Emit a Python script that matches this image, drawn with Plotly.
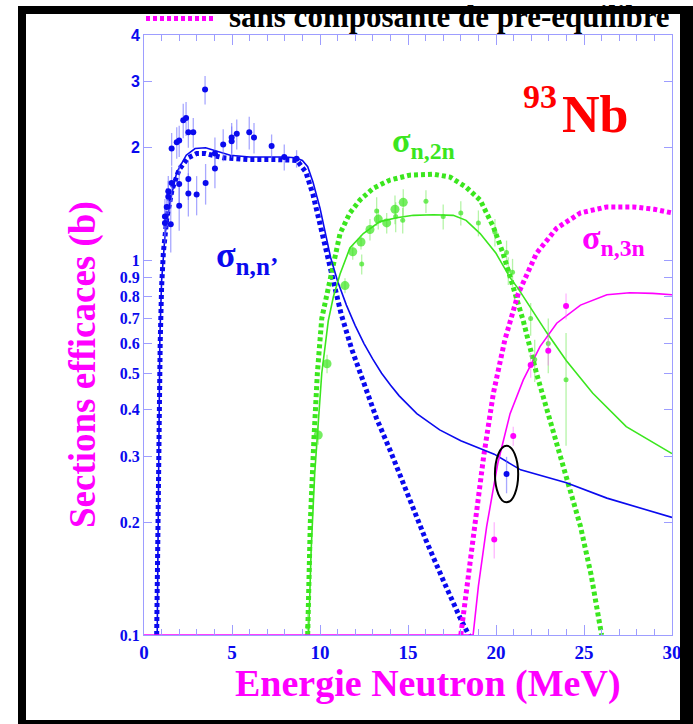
import math
import plotly.graph_objects as go

# ---------------- data ----------------
# sigma(n,n') with pre-equilibrium (solid blue)
E_nn_pe = [0.75, 0.8, 0.85, 0.9, 1.0, 1.1, 1.2, 1.5, 1.86, 2.4, 2.9, 3.5, 4.1, 4.9, 6.0, 7.0, 8.0, 8.6,
           9.0, 9.3, 9.6, 10.0, 10.3, 10.6, 11.0, 11.5, 12.0, 12.5, 13.0, 13.5, 14.0, 14.5, 15.5, 16.8,
           18.0, 19.9, 21.4, 24.0, 26.3, 30.0]
S_nn_pe = [0.1, 0.2, 0.4, 0.62, 0.88, 1.05, 1.18, 1.45, 1.72, 1.91, 1.99, 2.0, 1.96, 1.91, 1.89, 1.89, 1.89, 1.88,
           1.85, 1.78, 1.62, 1.38, 1.18, 1.02, 0.88, 0.76, 0.67, 0.6, 0.545, 0.5, 0.465, 0.435, 0.39, 0.353,
           0.33, 0.304, 0.276, 0.255, 0.232, 0.206]
# sigma(n,n') without pre-equilibrium (dotted blue)
E_nn_np = [0.72, 0.78, 0.85, 0.92, 1.0, 1.1, 1.3, 1.6, 2.0, 2.5, 3.0, 3.5, 4.5, 6.0, 7.5, 8.7, 9.2, 9.6,
           10.0, 10.4, 10.8, 11.2, 11.8, 12.5, 13.2, 14.0, 15.0, 16.0, 17.0, 18.0, 18.7]
S_nn_np = [0.1, 0.2, 0.4, 0.6, 0.85, 1.05, 1.3, 1.55, 1.75, 1.88, 1.93, 1.93, 1.88, 1.86, 1.86, 1.85, 1.72, 1.5,
           1.25, 1.05, 0.88, 0.72, 0.58, 0.47, 0.38, 0.31, 0.235, 0.18, 0.14, 0.11, 0.095]
# sigma(n,2n) with pre-equilibrium (solid green)
E_2n_pe = [9.35, 9.5, 9.7, 9.9, 10.1, 10.47, 10.76, 11.14, 11.7, 12.46, 13.4, 14.36, 15.3, 16.44, 17.57,
           18.3, 19.1, 20.0, 20.8, 21.27, 22.9, 24.0, 25.5, 27.4, 30.0]
S_2n_pe = [0.1, 0.17, 0.27, 0.38, 0.5, 0.69, 0.8, 0.92, 1.08, 1.18, 1.27, 1.30, 1.32, 1.325, 1.32,
           1.28, 1.18, 1.045, 0.9, 0.84, 0.64, 0.54, 0.442, 0.36, 0.305]
# sigma(n,2n) without pre-equilibrium (dotted green)
E_2n_np = [9.3, 9.45, 9.65, 9.85, 10.1, 10.38, 10.76, 11.14, 11.7, 12.27, 13.03, 13.98, 15.1, 16.44, 17.39,
           18.3, 19.1, 19.85, 20.4, 20.98, 21.55, 22.3, 23.07, 23.8, 24.4, 24.8, 25.4, 26.0]
S_2n_np = [0.1, 0.2, 0.33, 0.5, 0.70, 0.81, 1.0, 1.18, 1.34, 1.45, 1.56, 1.64, 1.69, 1.70, 1.67,
           1.57, 1.45, 1.23, 1.045, 0.85, 0.69, 0.50, 0.375, 0.287, 0.229, 0.195, 0.145, 0.1]
# sigma(n,3n) with pre-equilibrium (solid magenta)
E_3n_pe = [0.0, 18.7, 19.0, 19.47, 20.1, 20.8, 21.55, 22.5, 23.45, 24.8, 26.3, 27.6, 28.9, 30.0]
S_3n_pe = [0.1, 0.1, 0.135, 0.195, 0.287, 0.39, 0.48, 0.589, 0.68, 0.76, 0.81, 0.82, 0.817, 0.81]
# sigma(n,3n) without pre-equilibrium (dotted magenta)
E_3n_np = [18.0, 18.4, 18.8, 19.3, 19.85, 20.5, 21.27, 22.3, 23.45, 24.8, 26.3, 27.8, 29.0, 30.0]
S_3n_np = [0.1, 0.14, 0.199, 0.3, 0.442, 0.613, 0.817, 1.045, 1.22, 1.34, 1.39, 1.39, 1.37, 1.34]

# experimental points
E_exp_nn = [1.19, 1.19, 1.29, 1.38, 1.38, 1.52, 1.57, 1.57, 1.86, 2.0, 2.0, 2.0, 2.23, 2.39, 2.52, 2.52,
            2.52, 2.8, 2.99, 3.47, 3.5, 4.03, 4.03, 4.5, 4.98, 4.98, 5.27, 5.98, 6.25, 7.25, 7.97, 8.67]
S_exp_nn = [1.31, 1.26, 1.39, 1.53, 1.48, 1.25, 1.61, 1.99, 2.07, 2.09, 1.6, 1.4, 2.37, 2.4, 2.2, 1.65,
            1.51, 2.2, 1.5, 2.86, 1.61, 1.93, 1.76, 2.04, 2.13, 2.08, 2.18, 2.2, 2.13, 2.02, 1.89, 1.87]
D_exp_nn = [0.15, 0.15, 0.17, 0.15, 0.15, 0.2, 0.17, 0.2, 0.2, 0.2, 0.2, 0.2, 0.25, 0.25, 0.2, 0.2,
            0.2, 0.2, 0.18, 0.25, 0.2, 0.2, 0.2, 0.2, 0.2, 0.2, 0.2, 0.22, 0.2, 0.15, 0.15, 0.1]
E_circled = [20.6]
S_circled = [0.269]
D_circled = [0.03]

E_exp_2n = [9.3, 9.9, 10.4, 11.42, 11.86, 12.33, 12.37, 12.84, 13.22, 13.31, 13.79, 14.26, 14.3, 14.7,
            14.73, 16.02, 17.0, 18.0, 19.0, 19.94, 20.6, 20.7, 20.94, 21.97, 22.2, 22.97, 23.98]
S_exp_2n = [0.105, 0.342, 0.53, 0.857, 1.055, 1.12, 0.978, 1.21, 1.356, 1.29, 1.26, 1.37, 1.31, 1.28,
            1.43, 1.44, 1.31, 1.34, 1.26, 1.19, 1.05, 0.94, 0.93, 0.70, 0.544, 0.60, 0.48]
D_exp_2n = [0.01, 0.02, 0.03, 0.04, 0.05, 0.05, 0.06, 0.08, 0.12, 0.08, 0.08, 0.12, 0.12, 0.1,
            0.12, 0.1, 0.1, 0.1, 0.1, 0.1, 0.08, 0.08, 0.08, 0.07, 0.07, 0.1, 0.16]
Z_exp_2n = [5, 9, 9, 9, 9, 9, 5, 9, 5, 9, 9, 9, 5, 5, 9, 5, 5, 5, 5, 5, 5, 5, 5, 5, 5, 5, 5]

E_exp_3n = [19.9, 20.98, 21.97, 22.97, 23.98]
S_exp_3n = [0.18, 0.34, 0.526, 0.574, 0.756]
D_exp_3n = [0.02, 0.02, 0.04, 0.05, 0.06]

Y_TICKS = [0.1, 0.2, 0.3, 0.4, 0.5, 0.6, 0.7, 0.8, 0.9, 1, 2, 3, 4]
Y_LABELS = ["0.1", "0.2", "0.3", "0.4", "0.5", "0.6", "0.7", "0.8", "0.9", "1", "2", "3", "4"]
X_TICKS = [0, 5, 10, 15, 20, 25, 30]
X_LABELS = ["0", "5", "10", "15", "20", "25", "30"]

# ---------------- style ----------------
BLUE = "#0a0aee"
GREEN = "#3be61e"
MAG = "#ff00ff"
AXC = "#9d9dff"
SERIF = "Liberation Serif"
SANS = "Liberation Sans"
DOT = "4px,3px"

L, R, T, B = 144, 672, 35, 635
W, H = 693, 724


def xp(px):
    return (px - L) / (R - L)


def yp(py):
    return (B - py) / (B - T)


def btxt(s, fam=SERIF):
    return "<span style='font-family:%s'><b>%s</b></span>" % (fam, s)


fig = go.Figure()


def line(x, y, color, width, dash=None):
    fig.add_trace(go.Scatter(x=x, y=y, mode="lines", showlegend=False, hoverinfo="skip",
                             line=dict(color=color, width=width, dash=dash)))


line(E_nn_np, S_nn_np, BLUE, 5, DOT)
line(E_2n_np, S_2n_np, GREEN, 5, DOT)
line(E_3n_np, S_3n_np, MAG, 5, DOT)
line(E_nn_pe, S_nn_pe, BLUE, 1.6)
line(E_2n_pe, S_2n_pe, GREEN, 1.6)
line(E_3n_pe, S_3n_pe, MAG, 1.6)


def pts(x, y, d, color, ecolor, size):
    fig.add_trace(go.Scatter(x=x, y=y, mode="markers", showlegend=False, hoverinfo="skip",
                             marker=dict(color=color, size=size, line=dict(width=0)),
                             error_y=dict(type="data", array=d, color=ecolor, thickness=1.3, width=0)))


pts(E_exp_nn, S_exp_nn, D_exp_nn, BLUE, "rgba(110,110,255,0.6)", 6)
pts(E_circled, S_circled, D_circled, BLUE, "rgba(110,110,255,0.6)", 6)
pts(E_exp_2n, S_exp_2n, D_exp_2n, GREEN, "rgba(90,230,60,0.45)", Z_exp_2n)
pts(E_exp_3n, S_exp_3n, D_exp_3n, MAG, "rgba(255,110,255,0.5)", 6)

shapes = []
# legend sample line
shapes.append(dict(type="line", xref="paper", yref="paper", x0=xp(146), x1=xp(215), y0=yp(18.5), y1=yp(18.5),
                   line=dict(color=MAG, width=5, dash=DOT), layer="above"))
# ellipse around the circled point
cx, cy = E_circled[0], S_circled[0]
shapes.append(dict(type="circle", xref="x", yref="y", x0=cx - 0.66, x1=cx + 0.66, y0=cy / 1.19, y1=cy * 1.19,
                   line=dict(color="black", width=2), layer="above"))
# black frame (left, right, bottom)
for (a, b, c, d) in [(18, 26, 6, 720), (680, 700, 6, 730), (18, 700, 720, 730)]:
    shapes.append(dict(type="rect", xref="paper", yref="paper", x0=xp(a), x1=xp(b), y0=yp(d), y1=yp(c),
                       fillcolor="black", line=dict(width=0), layer="above"))

ann = []


def text(s, x, y, size, color, xanchor="left", yanchor="middle", angle=0):
    ann.append(dict(text="<b>%s</b>" % s, x=xp(x), y=yp(y), xref="paper", yref="paper", showarrow=False,
                    xanchor=xanchor, yanchor=yanchor, textangle=angle,
                    font=dict(family=SERIF, size=size, color=color)))


# legend text, its top hidden under the frame's top bar (next annotation)
text("sans composante de pre-equilibre", 227, 17, 31, "black")
ann.append(dict(text=" ", x=xp(18), y=yp(6), xref="paper", yref="paper", showarrow=False,
                xanchor="left", yanchor="top", width=682, height=8, bgcolor="black",
                borderpad=0, borderwidth=0, font=dict(size=2, color="black")))

text("Energie Neutron (MeV)", 428, 683, 38, MAG, xanchor="center")
text("Sections efficaces (b)", 83, 365, 37, MAG, xanchor="center", angle=-90)
text("93", 521, 96, 34, "#ff0000")
text("Nb", 560, 115, 52, "#ff0000")
text("σ<sub>n,n’</sub>", 214, 257, 36, BLUE)
text("σ<sub>n,2n</sub>", 390, 143, 34, GREEN)
text("σ<sub>n,3n</sub>", 580, 240, 34, MAG)

fig.update_layout(
    width=W, height=H, autosize=False,
    margin=dict(l=L, r=W - R, t=T, b=H - B, pad=0),
    paper_bgcolor="white", plot_bgcolor="white",
    shapes=shapes, annotations=ann,
    xaxis=dict(range=[0, 30], tickvals=X_TICKS, ticktext=[btxt(s) for s in X_LABELS],
               ticks="inside", ticklen=10, tickcolor=AXC, tickwidth=1,
               showline=True, linecolor=AXC, linewidth=1, mirror="ticks", showgrid=False, zeroline=False,
               minor=dict(dtick=1, ticks="inside", ticklen=6, tickcolor=AXC, showgrid=False),
               tickfont=dict(family=SERIF, size=19, color=BLUE)),
    yaxis=dict(type="log", range=[-1, math.log10(4)], tickvals=Y_TICKS,
               ticktext=[btxt(s, SANS if s in ("2", "3", "4") else SERIF) for s in Y_LABELS],
               ticks="inside", ticklen=8, tickcolor=AXC, tickwidth=1,
               showline=True, linecolor=AXC, linewidth=1, mirror="ticks", showgrid=False, zeroline=False,
               tickfont=dict(family=SERIF, size=16, color=BLUE)),
)

fig.write_html("out.html")
